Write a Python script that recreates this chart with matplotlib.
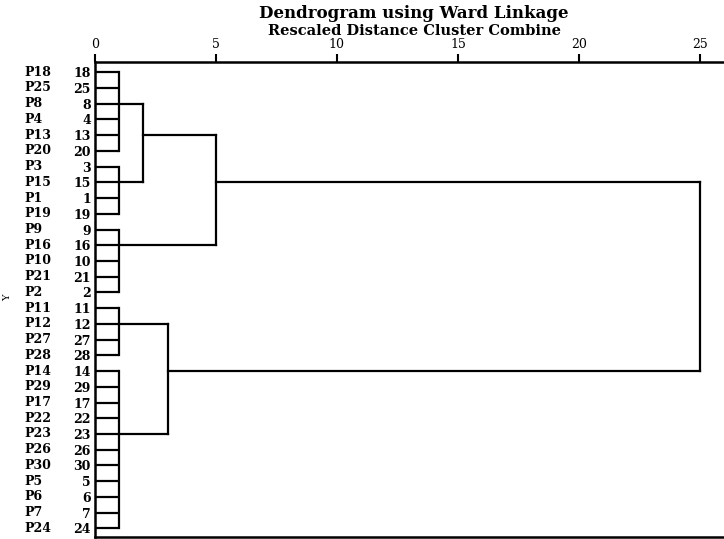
import numpy as np
import matplotlib.pyplot as plt

# casi in ordine di dendrogramma
etichette = ["P18", "P25", "P8", "P4", "P13", "P20", "P3", "P15", "P1", "P19",
             "P9", "P16", "P10", "P21", "P2", "P11", "P12", "P27", "P28", "P14",
             "P29", "P17", "P22", "P23", "P26", "P30", "P5", "P6", "P7", "P24"]
numeri = [18, 25, 8, 4, 13, 20, 3, 15, 1, 19,
          9, 16, 10, 21, 2, 11, 12, 27, 28, 14,
          29, 17, 22, 23, 26, 30, 5, 6, 7, 24]

# gruppi iniziali: (primo caso, ultimo caso, caso di aggancio, distanza)
gruppi = {
    "A": (0, 5, 2, 1.0),
    "B": (6, 9, 7, 1.0),
    "C": (10, 14, 11, 1.0),
    "D": (15, 18, 16, 1.0),
    "E": (19, 29, 23, 1.0),
}
# fusioni successive: nome -> (figli, caso di aggancio, distanza)
fusioni = {
    "AB": (["A", "B"], 4, 2.0),
    "ABC": (["AB", "C"], 7, 5.0),
    "DE": (["D", "E"], 19, 3.0),
    "ROOT": (["ABC", "DE"], None, 25.0),
}
tick_distanza = [0, 5, 10, 15, 20, 25]

plt.rcParams["font.family"] = ["DejaVu Serif"]

fig = plt.figure(figsize=(7.24, 5.39), dpi=100)
ax = fig.add_axes([95 / 724, 2 / 539, 629 / 724, 475 / 539])
lw = 1.6

nodi = {}
for nome, (i0, i1, agg, h) in gruppi.items():
    for i in range(i0, i1 + 1):
        ax.plot([0, h], [i, i], color="black", lw=lw, solid_capstyle="butt")
    ax.plot([h, h], [i0, i1], color="black", lw=lw)
    nodi[nome] = (agg, h)

for nome, (figli, agg, h) in fusioni.items():
    ys = [nodi[f][0] for f in figli]
    for f in figli:
        ax.plot([nodi[f][1], h], [nodi[f][0]] * 2, color="black", lw=lw)
    ax.plot([h, h], [min(ys), max(ys)], color="black", lw=lw)
    nodi[nome] = (agg, h)

ax.set_xlim(0, 26)
ax.set_ylim(29.55, -0.65)
ax.xaxis.tick_top()
ax.set_xticks(tick_distanza)
ax.tick_params(axis="x", direction="out", length=6, width=1.5, pad=2, labelsize=9)
ax.set_yticks(range(len(numeri)))
ax.set_yticklabels([str(n) for n in numeri], fontsize=9, fontweight="bold")
ax.tick_params(axis="y", length=0, pad=3)
for i, e in enumerate(etichette):
    ax.text(-2.9, i, e, ha="left", va="center", fontsize=9, fontweight="bold",
            transform=ax.transData, clip_on=False)
ax.spines["right"].set_visible(False)
for s in ["top", "left", "bottom"]:
    ax.spines[s].set_linewidth(1.8)

fig.text(8 / 724, 1 - 298 / 539, "Y", rotation=90, fontsize=7, ha="center", va="center")
fig.text(414 / 724, 1 - 14 / 539, "Dendrogram using Ward Linkage",
         fontsize=12, fontweight="bold", ha="center", va="center")
fig.text(414 / 724, 1 - 31 / 539, "Rescaled Distance Cluster Combine",
         fontsize=10.5, fontweight="bold", ha="center", va="center")

fig.savefig("out.png", dpi=100)
